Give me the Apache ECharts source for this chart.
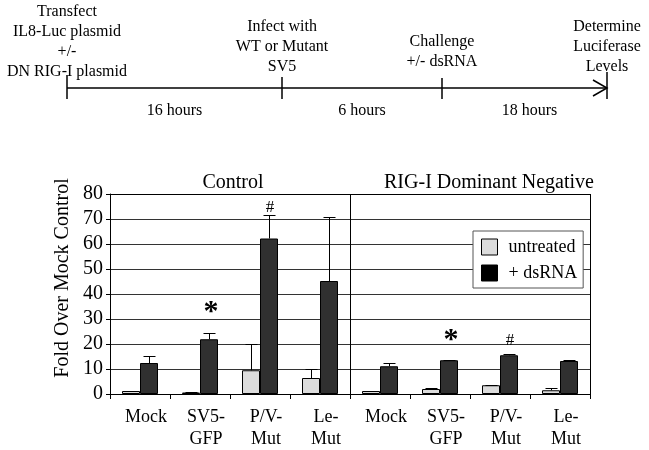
<!DOCTYPE html>
<html>
<head>
<meta charset="utf-8">
<script src="https://cdn.jsdelivr.net/npm/echarts@6/dist/echarts.min.js"></script>
<style>
html,body{margin:0;padding:0;background:#fff;}
#chart{width:649px;height:450px;}
</style>
</head>
<body>
<div id="chart"></div>
<script>
// ---- data ----
var categories = ['Mock', 'SV5-\nGFP', 'P/V-\nMut', 'Le-\nMut', 'Mock', 'SV5-\nGFP', 'P/V-\nMut', 'Le-\nMut'];
var panels = ['Control', 'RIG-I Dominant Negative'];
var untreated = [1.2, 0.6, 9.5, 6.4, 1.2, 2.0, 3.5, 1.5];
var untreatedErr = [0, 0.4, 10.5, 3.6, 0, 0.6, 0.2, 0.8];
var dsRNA = [12.4, 21.9, 62.2, 45.2, 11.1, 13.5, 15.5, 13.2];
var dsRNAErr = [2.9, 2.6, 9.6, 25.8, 1.2, 0.2, 0.5, 0.5];
var annotText = ['', '*', '#', '', '', '*', '#', ''];
var annotLevel = [null, 32.8, 74.4, null, null, 21.5, 21.5, null];
var yTicks = {min: 0, max: 80, interval: 10};
var seriesNames = ['untreated', '+ dsRNA'];
var timelineSteps = ['Transfect\nIL8-Luc plasmid\n+/-\nDN RIG-I plasmid', 'Infect with\nWT or Mutant\nSV5', 'Challenge\n+/- dsRNA', 'Determine\nLuciferase\nLevels'];
var timelineIntervals = ['16 hours', '6 hours', '18 hours'];

// ---- layout / style ----
var FONT = 'Liberation Serif';
var BAR_W = 18;
var stepX = [67, 282, 442, 607];
var stepTop = [2, 17, 32, 17];
var tickTop = [75, 77, 78, 72];
var lineY = 88;

function errSeries(vals, errs, off) {
  return {
    type: 'custom',
    z: 5,
    silent: true,
    data: vals.map(function (v, i) { return [i, v, errs[i]]; }),
    renderItem: function (params, api) {
      var i = api.value(0), v = api.value(1), e = api.value(2);
      if (!e) return null;
      var b = api.coord([i, v]);
      var t = api.coord([i, v + e]);
      var x = Math.round(b[0] + off) + 0.5;
      var ty = Math.round(t[1]) + 0.5;
      var st = {stroke: '#000', lineWidth: 1};
      return {type: 'group', children: [
        {type: 'line', shape: {x1: x, y1: b[1], x2: x, y2: ty}, style: st},
        {type: 'line', shape: {x1: x - 6, y1: ty, x2: x + 6, y2: ty}, style: st}
      ]};
    }
  };
}

var graphics = [];
// timeline
graphics.push({type: 'line', shape: {x1: stepX[0], y1: lineY, x2: stepX[3], y2: lineY}, style: {stroke: '#000', lineWidth: 1.5}});
stepX.forEach(function (x, i) {
  graphics.push({type: 'line', shape: {x1: x, y1: tickTop[i], x2: x, y2: 99}, style: {stroke: '#000', lineWidth: 1.5}});
  graphics.push({type: 'text', x: x, y: stepTop[i], style: {text: timelineSteps[i], font: '16px ' + FONT, fill: '#000', textAlign: 'center', textVerticalAlign: 'top', lineHeight: 20}});
});
graphics.push({type: 'polyline', shape: {points: [[593, 80], [607, lineY], [593, 96]]}, style: {stroke: '#000', lineWidth: 1.5, fill: null}});
timelineIntervals.forEach(function (t, i) {
  graphics.push({type: 'text', x: (stepX[i] + stepX[i + 1]) / 2 + (i === 2 ? 5 : 0), y: 111, style: {text: t, font: '16px ' + FONT, fill: '#000', textAlign: 'center', textVerticalAlign: 'middle'}});
});
// panel titles
graphics.push({type: 'text', x: 233, y: 183, style: {text: panels[0], font: '20px ' + FONT, fill: '#000', textAlign: 'center', textVerticalAlign: 'middle'}});
graphics.push({type: 'text', x: 489, y: 183, style: {text: panels[1], font: '20px ' + FONT, fill: '#000', textAlign: 'center', textVerticalAlign: 'middle'}});
// y axis name
graphics.push({type: 'text', x: 63, y: 278, rotation: Math.PI / 2, style: {text: 'Fold Over Mock Control', font: '20px ' + FONT, fill: '#000', textAlign: 'center', textVerticalAlign: 'middle'}});

var chart = echarts.init(document.getElementById('chart'), null, {renderer: 'canvas'});
chart.setOption({
  animation: false,
  backgroundColor: '#fff',
  grid: {left: 110, right: 59, top: 194, bottom: 56},
  legend: {
    orient: 'vertical', left: 473, top: 231,
    padding: [7, 6, 6, 8],
    itemWidth: 16, itemHeight: 16, itemGap: 8,
    borderColor: '#555', borderWidth: 1, backgroundColor: '#fff',
    icon: 'rect',
    textStyle: {fontFamily: FONT, fontSize: 18, color: '#000', padding: [0, 0, 0, 6]},
    data: [
      {name: seriesNames[0], itemStyle: {color: '#dcdcdc', borderColor: '#000', borderWidth: 1}},
      {name: seriesNames[1], itemStyle: {color: '#000', borderColor: '#000', borderWidth: 1}}
    ]
  },
  xAxis: [{
    type: 'category', data: categories, position: 'bottom',
    axisLine: {lineStyle: {color: '#000', width: 1}},
    axisTick: {show: true, length: 5, lineStyle: {color: '#000'}},
    axisLabel: {fontFamily: FONT, fontSize: 18, color: '#000', lineHeight: 22, margin: 12, interval: 0, padding: [0, 0, 0, 12]},
    splitLine: {show: false}
  }, {
    type: 'category', data: panels, position: 'top',
    axisLine: {show: true, lineStyle: {color: '#000', width: 1}},
    axisTick: {show: false},
    axisLabel: {show: false},
    splitLine: {show: true, lineStyle: {color: '#000', width: 1}}
  }],
  yAxis: {
    type: 'value', min: yTicks.min, max: yTicks.max, interval: yTicks.interval,
    axisLine: {show: true, lineStyle: {color: '#000', width: 1}},
    axisTick: {show: true, length: 4, lineStyle: {color: '#000'}},
    axisLabel: {fontFamily: FONT, fontSize: 20, color: '#000', margin: 7},
    splitLine: {show: true, lineStyle: {color: '#333', width: 1}}
  },
  series: [{
    name: seriesNames[0], type: 'bar', data: untreated, barWidth: BAR_W, barGap: '0%',
    itemStyle: {color: '#dcdcdc', borderColor: '#000', borderWidth: 1}
  }, {
    name: seriesNames[1], type: 'bar', data: dsRNA, barWidth: BAR_W, barGap: '0%',
    itemStyle: {color: '#303030', borderColor: '#000', borderWidth: 1}
  },
  errSeries(untreated, untreatedErr, -BAR_W / 2),
  errSeries(dsRNA, dsRNAErr, BAR_W / 2),
  {
    type: 'custom', z: 6, silent: true,
    data: annotText.map(function (t, i) { return [i, annotLevel[i] == null ? 0 : annotLevel[i], i]; }),
    renderItem: function (params, api) {
      var i = api.value(2);
      if (!annotText[i]) return null;
      var p = api.coord([api.value(0), api.value(1)]);
      var star = annotText[i] === '*';
      return {type: 'text', x: p[0] + BAR_W / 2 + (star ? 2 : 1), y: p[1], style: {
        text: annotText[i], fill: '#000', textAlign: 'center', textVerticalAlign: 'middle',
        font: star ? 'bold 30px ' + FONT : '17px ' + FONT
      }};
    }
  }],
  graphic: graphics
});
</script>
</body>
</html>
